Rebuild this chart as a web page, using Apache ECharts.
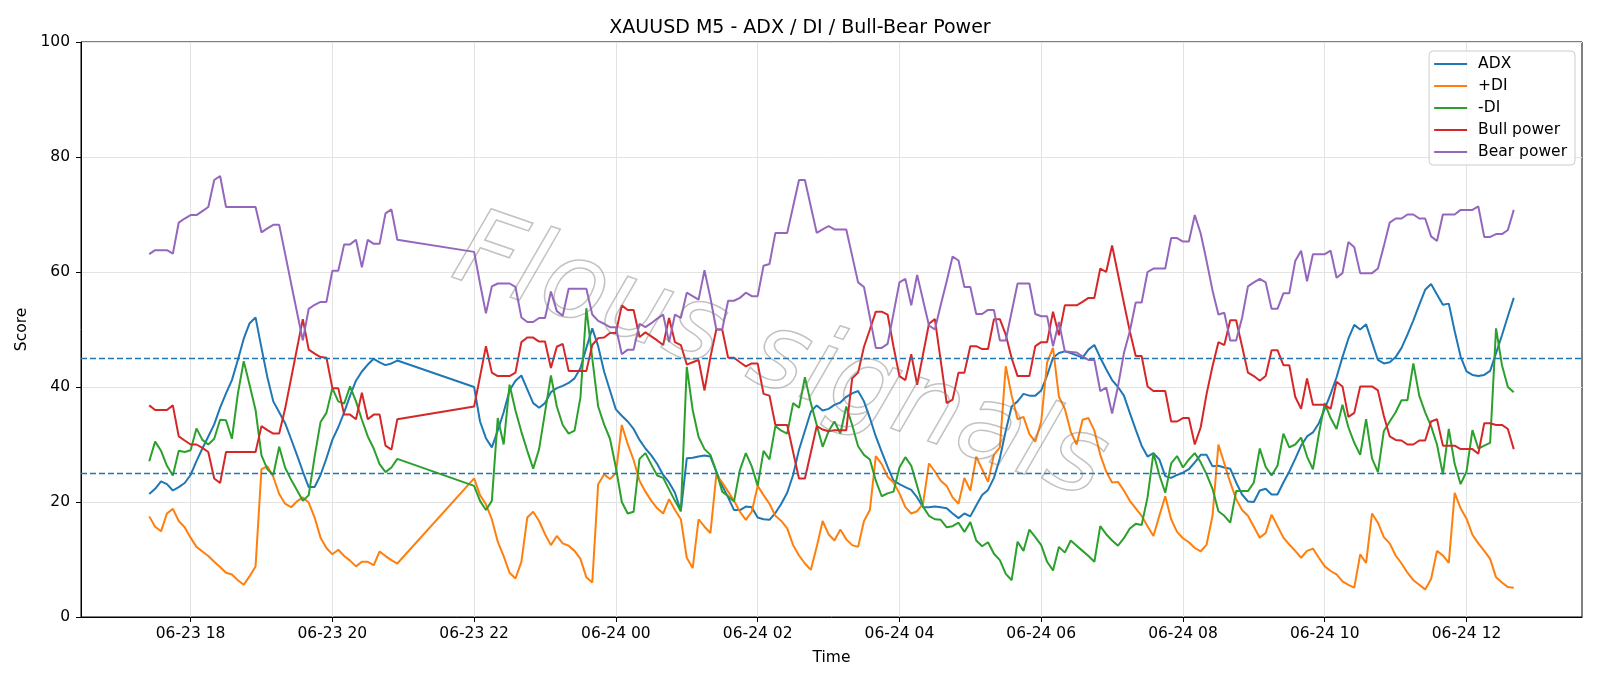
<!DOCTYPE html>
<html>
<head>
<meta charset="utf-8">
<title>XAUUSD M5 - ADX / DI / Bull-Bear Power</title>
<script src="https://cdn.jsdelivr.net/npm/echarts@6/dist/echarts.min.js"></script>
<style>
  html, body { margin: 0; padding: 0; background: #fff; }
  #chart { width: 1600px; height: 686px; }
</style>
</head>
<body>
<div id="chart"></div>
<script>
// two trading sessions of 5-minute bars (market pause 21:00-22:00)
const sessionStarts = ["2025-06-23T17:25:00Z", "2025-06-23T22:00:00Z"];
const sessionBars = [43, 177];
const barMinutes = 5;

const tickTimes = [
  "2025-06-23T18:00:00Z", "2025-06-23T20:00:00Z", "2025-06-23T22:00:00Z",
  "2025-06-24T00:00:00Z", "2025-06-24T02:00:00Z", "2025-06-24T04:00:00Z",
  "2025-06-24T06:00:00Z", "2025-06-24T08:00:00Z", "2025-06-24T10:00:00Z",
  "2025-06-24T12:00:00Z"
];
const yTicks = [0, 20, 40, 60, 80, 100];
const thresholds = [25, 45];

const adxS1 = [
  21.4, 22.3, 23.6, 23.1, 22.0, 22.6, 23.3, 24.7, 27.1, 29.3,
  31.4, 33.5, 36.4, 38.9, 41.2, 44.7, 48.4, 51.1, 52.1, 46.8,
  41.7, 37.5, 35.6, 33.7, 31.0, 28.2, 25.3, 22.6, 22.6, 24.7,
  27.6, 30.8, 33.0, 35.6, 38.5, 41.1, 42.7, 43.9, 44.9, 44.3,
  43.8, 44.1, 44.6
];
const adxS2 = [
  40.0, 34.0, 31.1, 29.5, 32.4, 35.6, 39.4, 41.1, 42.0, 39.6,
  37.2, 36.4, 37.2, 39.1, 39.8, 40.2, 40.7, 41.5, 43.3, 46.8,
  50.2, 47.1, 42.7, 39.4, 36.1, 35.0, 34.0, 32.7, 30.8, 29.3,
  28.1, 26.6, 24.7, 23.4, 21.6, 18.4, 27.6, 27.7, 27.9, 28.1,
  27.9, 25.3, 22.8, 20.8, 18.6, 18.6, 19.2, 19.1, 17.3, 17.0,
  16.9, 18.1, 19.7, 21.6, 24.7, 29.1, 32.4, 35.7, 36.8, 35.9,
  36.2, 36.9, 37.3, 38.3, 38.9, 39.3, 37.5, 34.6, 31.4, 28.7,
  26.1, 23.7, 23.1, 22.6, 22.1, 20.8, 19.1, 19.1, 19.2, 19.1,
  18.9, 18.0, 17.2, 18.0, 17.5, 19.4, 21.2, 22.1, 24.2, 27.6,
  32.4, 36.6, 37.5, 38.8, 38.5, 38.5, 39.4, 42.0, 45.1, 45.9,
  46.2, 45.9, 45.5, 45.1, 46.5, 47.3, 45.1, 43.1, 41.2, 40.0,
  38.5, 35.5, 32.6, 29.8, 27.9, 28.5, 27.4, 24.5, 24.2, 24.7,
  25.1, 25.7, 26.9, 28.2, 28.2, 26.2, 26.3, 26.0, 25.8, 23.4,
  21.3, 20.1, 20.0, 22.0, 22.3, 21.3, 21.3, 23.4, 25.3, 27.5,
  29.8, 31.4, 32.1, 33.7, 36.2, 38.8, 41.7, 45.2, 48.4, 50.8,
  50.0, 50.9, 47.8, 44.7, 44.1, 44.3, 45.2, 46.8, 49.1, 51.6,
  54.3, 56.9, 57.9, 56.1, 54.3, 54.5, 49.7, 45.3, 42.7, 42.1,
  41.9, 42.1, 42.8, 45.9, 49.0, 52.3, 55.5
];

const plusDiS1 = [
  17.5, 15.7, 14.9, 18.0, 18.8, 16.7, 15.6, 13.8, 12.2, 11.4,
  10.6, 9.6, 8.7, 7.7, 7.4, 6.4, 5.6, 7.1, 8.8, 25.7,
  26.2, 24.4, 21.4, 19.7, 19.1, 20.1, 20.8, 19.9, 17.3, 13.8,
  12.0, 10.9, 11.7, 10.6, 9.8, 8.8, 9.6, 9.6, 9.0, 11.4,
  10.6, 9.9, 9.3
];
const plusDiS2 = [
  24.1, 21.2, 19.6, 17.0, 13.1, 10.6, 7.7, 6.7, 9.6, 17.3,
  18.3, 16.7, 14.4, 12.5, 14.1, 12.8, 12.4, 11.5, 10.1, 6.9,
  6.0, 23.1, 24.8, 24.0, 25.0, 33.4, 30.1, 27.3, 23.7, 21.8,
  20.2, 18.9, 18.0, 20.5, 18.6, 17.0, 10.3, 8.5, 17.0, 15.7,
  14.6, 24.7, 23.4, 21.8, 20.2, 18.3, 16.9, 18.3, 22.8, 21.2,
  19.7, 17.6, 16.7, 15.4, 12.5, 10.7, 9.3, 8.2, 12.2, 16.7,
  14.4, 13.3, 15.2, 13.5, 12.5, 12.2, 16.7, 18.6, 28.0, 26.6,
  24.4, 23.4, 21.5, 19.1, 18.0, 18.4, 19.7, 26.7, 25.3, 23.7,
  22.8, 20.8, 19.7, 24.2, 22.0, 27.9, 25.7, 23.5, 28.2, 29.5,
  43.6, 38.5, 34.4, 34.8, 31.8, 30.5, 34.0, 44.3, 46.8, 38.3,
  36.2, 32.2, 30.0, 34.3, 34.6, 32.4, 28.2, 25.3, 23.4, 23.5,
  22.0, 20.2, 18.9, 17.6, 15.8, 14.1, 17.6, 21.0, 17.0, 14.8,
  13.7, 13.0, 12.0, 11.4, 12.6, 17.6, 30.0, 26.7, 23.4, 20.5,
  18.6, 17.6, 15.7, 13.8, 14.6, 17.8, 15.8, 13.8, 12.6, 11.5,
  10.3, 11.5, 11.9, 10.3, 8.8, 8.0, 7.4, 6.2, 5.6, 5.1,
  10.9, 9.4, 18.0, 16.4, 13.9, 12.8, 10.7, 9.3, 7.7, 6.4,
  5.6, 4.8, 6.6, 11.5, 10.7, 9.4, 21.6, 18.9, 17.1, 14.3,
  12.8, 11.5, 10.1, 6.9, 6.0, 5.2, 5.1
];

const minusDiS1 = [
  27.1, 30.5, 28.9, 26.3, 24.6, 28.9, 28.7, 29.0, 32.8, 30.8,
  30.0, 31.0, 34.3, 34.2, 31.0, 38.8, 44.5, 40.3, 36.0, 28.1,
  25.7, 24.7, 29.6, 26.0, 23.9, 22.1, 20.2, 21.2, 27.9, 33.9,
  35.5, 39.8, 37.5, 37.1, 40.1, 37.5, 34.3, 31.4, 29.3, 26.6,
  25.2, 26.0, 27.5
];
const minusDiS2 = [
  22.8, 20.2, 18.6, 20.2, 34.6, 30.0, 40.4, 35.9, 32.2, 28.9,
  25.8, 29.2, 35.6, 42.0, 36.6, 33.4, 31.9, 32.4, 38.2, 53.7,
  45.0, 36.6, 33.5, 31.0, 26.0, 20.0, 18.0, 18.3, 27.5, 28.5,
  26.5, 24.6, 24.2, 22.2, 20.2, 18.4, 43.5, 36.0, 31.3, 29.2,
  28.2, 25.3, 21.8, 21.0, 20.1, 25.6, 28.5, 26.2, 22.8, 28.9,
  27.4, 33.2, 32.4, 31.9, 37.2, 36.4, 41.7, 37.2, 33.4, 29.6,
  32.3, 34.0, 31.9, 36.6, 33.4, 29.7, 28.2, 27.4, 23.7, 21.0,
  21.5, 21.8, 26.0, 27.8, 26.3, 22.8, 19.2, 17.6, 17.0, 16.9,
  15.6, 15.8, 16.4, 14.8, 16.5, 13.3, 12.3, 13.0, 11.0, 9.9,
  7.5, 6.4, 13.1, 11.5, 15.2, 13.9, 12.5, 9.6, 8.1, 12.2,
  11.2, 13.3, 12.4, 11.5, 10.6, 9.6, 15.8, 14.4, 13.3, 12.4,
  13.7, 15.4, 16.2, 16.0, 20.8, 28.5, 24.7, 21.6, 26.7, 28.0,
  26.0, 27.4, 28.5, 26.9, 24.8, 22.3, 18.4, 17.6, 16.4, 21.9,
  21.9, 21.9, 23.4, 29.3, 26.1, 24.6, 26.3, 31.9, 29.5, 30.0,
  31.2, 27.9, 25.7, 31.8, 37.2, 34.6, 32.7, 36.9, 33.0, 30.3,
  28.2, 34.4, 27.6, 25.2, 32.3, 34.0, 35.6, 37.7, 37.7, 44.1,
  38.5, 35.6, 33.2, 30.0, 24.8, 32.7, 26.6, 23.1, 25.3, 32.5,
  29.3, 29.8, 30.3, 50.2, 43.8, 40.0, 39.1
];

const bullS1 = [
  36.8, 36.0, 36.0, 36.0, 36.8, 31.4, 30.7, 30.0, 30.0, 29.4,
  28.7, 24.1, 23.3, 28.7, 28.7, 28.7, 28.7, 28.7, 28.7, 33.2,
  32.5, 31.9, 31.9, 36.2, 41.4, 46.6, 51.8, 46.5, 45.8, 45.2,
  45.1, 39.8, 39.8, 35.2, 35.2, 34.4, 39.0, 34.4, 35.2, 35.2,
  29.8, 29.1, 34.4
];
const bullS2 = [
  36.6, 41.8, 47.1, 42.5, 41.9, 41.9, 41.9, 42.5, 47.8, 48.6,
  48.6, 47.9, 47.9, 43.3, 47.0, 47.5, 42.8, 42.8, 42.8, 42.8,
  47.3, 48.5, 48.6, 49.4, 49.4, 54.2, 53.4, 53.4, 48.7, 49.5,
  48.8, 48.1, 47.3, 52.0, 47.8, 47.3, 43.9, 44.3, 44.7, 39.4,
  45.2, 50.0, 50.0, 45.1, 45.1, 44.3, 43.6, 44.1, 44.1, 38.8,
  38.5, 33.4, 33.4, 33.4, 28.7, 24.1, 24.1, 28.6, 33.2, 32.6,
  32.3, 32.5, 32.5, 32.5, 41.5, 42.5, 47.0, 50.0, 53.1, 53.1,
  52.6, 47.0, 41.9, 41.2, 45.7, 40.4, 45.7, 51.0, 51.8, 44.5,
  37.2, 37.8, 42.5, 42.5, 47.1, 47.1, 46.6, 46.6, 51.8, 51.8,
  49.1, 45.0, 41.9, 41.9, 41.9, 47.1, 47.8, 47.8, 53.1, 49.0,
  54.2, 54.2, 54.2, 54.8, 55.5, 55.5, 60.6, 60.0, 64.6, 59.6,
  54.6, 49.7, 45.4, 45.4, 40.1, 39.3, 39.3, 39.3, 34.0, 34.0,
  34.6, 34.6, 30.0, 33.0, 38.8, 43.6, 47.8, 47.3, 51.6, 51.6,
  47.1, 42.5, 41.9, 41.1, 41.9, 46.4, 46.4, 43.8, 43.8, 38.3,
  36.2, 41.5, 36.9, 36.9, 36.9, 36.2, 40.9, 40.1, 34.8, 35.5,
  40.1, 40.1, 40.1, 39.4, 35.0, 31.4, 30.8, 30.7, 30.0, 30.0,
  30.7, 30.7, 34.0, 34.4, 29.8, 29.8, 29.8, 29.2, 29.2, 29.2,
  28.4, 33.7, 33.7, 33.4, 33.4, 32.7, 29.2
];

const bearS1 = [
  63.1, 63.8, 63.8, 63.8, 63.2, 68.6, 69.3, 69.9, 69.9, 70.6,
  71.3, 76.0, 76.7, 71.3, 71.3, 71.3, 71.3, 71.3, 71.3, 66.9,
  67.6, 68.2, 68.2, 63.2, 58.1, 53.1, 48.1, 53.6, 54.3, 54.8,
  54.8, 60.2, 60.2, 64.8, 64.8, 65.6, 60.8, 65.6, 64.9, 64.9,
  70.2, 70.9, 65.6
];
const bearS2 = [
  63.5, 58.0, 52.8, 57.5, 58.0, 58.0, 58.0, 57.4, 52.1, 51.3,
  51.3, 52.0, 52.0, 56.6, 53.2, 52.4, 57.1, 57.1, 57.1, 57.1,
  52.6, 51.5, 51.0, 50.4, 50.4, 45.7, 46.5, 46.5, 51.0, 50.4,
  51.1, 51.9, 52.6, 47.8, 52.6, 52.0, 56.4, 55.8, 55.2, 60.3,
  55.5, 50.0, 50.0, 55.0, 55.0, 55.5, 56.4, 55.8, 55.8, 61.1,
  61.4, 66.8, 66.8, 66.8, 71.4, 76.0, 76.0, 71.4, 66.8, 67.4,
  68.0, 67.4, 67.4, 67.4, 62.8, 58.2, 57.4, 52.1, 46.8, 46.8,
  47.5, 52.8, 58.2, 58.8, 54.2, 59.5, 55.1, 50.7, 50.0, 54.3,
  58.4, 62.7, 62.0, 57.4, 57.4, 52.7, 52.7, 53.4, 53.4, 48.1,
  48.1, 53.1, 58.0, 58.0, 58.0, 52.7, 52.3, 52.3, 47.1, 51.3,
  46.2, 46.1, 46.0, 45.3, 44.7, 44.7, 39.3, 39.9, 35.4, 40.1,
  45.9, 49.7, 54.7, 54.7, 60.0, 60.6, 60.6, 60.6, 65.9, 65.9,
  65.3, 65.3, 69.9, 66.7, 61.9, 56.8, 52.6, 52.9, 48.1, 48.1,
  52.0, 57.5, 58.2, 58.8, 58.2, 53.6, 53.6, 56.3, 56.3, 61.9,
  63.7, 58.4, 63.1, 63.1, 63.1, 63.7, 59.0, 59.8, 65.2, 64.3,
  59.8, 59.8, 59.8, 60.6, 64.5, 68.6, 69.3, 69.3, 70.0, 70.0,
  69.3, 69.3, 66.2, 65.4, 70.0, 70.0, 70.0, 70.8, 70.8, 70.8,
  71.4, 66.1, 66.1, 66.6, 66.6, 67.3, 70.8
];

// bar timestamps
const times = [];
sessionStarts.forEach((s, k) => {
  const t0 = Date.parse(s);
  for (let i = 0; i < sessionBars[k]; i++) times.push(t0 + i * barMinutes * 60000);
});

function pairs(a, b) {
  return a.concat(b).map((v, i) => [times[i], v]);
}

const pad2 = n => (n < 10 ? "0" : "") + n;
function fmtTick(v) {
  const d = new Date(v);
  return pad2(d.getUTCMonth() + 1) + "-" + pad2(d.getUTCDate()) + " " + pad2(d.getUTCHours());
}

const first = times[0], last = times[times.length - 1];
const margin = (last - first) * 0.05;
const tickValues = tickTimes.map(t => Date.parse(t));

const font = "DejaVu Sans";
const chart = echarts.init(document.getElementById("chart"));

function lineSeries(name, color, a, b, extra) {
  return Object.assign({
    name: name,
    type: "line",
    data: pairs(a, b),
    showSymbol: false,
    symbol: "none",
    color: color,
    lineStyle: { width: 2, color: color },
    animation: false
  }, extra || {});
}

chart.setOption({
  backgroundColor: "#ffffff",
  animation: false,
  textStyle: { fontFamily: font },
  title: {
    text: "XAUUSD M5 - ADX / DI / Bull-Bear Power",
    left: "center",
    top: 14,
    textStyle: { fontFamily: font, fontSize: 19, fontWeight: "normal", color: "#000" }
  },
  legend: {
    orient: "vertical",
    right: 25,
    top: 51,
    icon: "rect",
    itemWidth: 33,
    itemHeight: 2,
    itemGap: 6,
    padding: [5, 8, 5, 5],
    backgroundColor: "rgba(255,255,255,0.8)",
    borderColor: "#cccccc",
    borderWidth: 1,
    borderRadius: 4,
    textStyle: { fontFamily: font, fontSize: 15.5, color: "#000", lineHeight: 16, padding: [0, 0, 0, 6] },
    data: ["ADX", "+DI", "-DI", "Bull power", "Bear power"]
  },
  grid: {
    left: 81,
    right: 18,
    top: 42,
    bottom: 69,
    show: true,
    borderColor: "#000",
    borderWidth: 1
  },
  xAxis: {
    type: "value",
    scale: true,
    min: first - margin,
    max: last + margin,
    name: "Time",
    nameLocation: "middle",
    nameGap: 33,
    nameTextStyle: { fontFamily: font, fontSize: 15.5, color: "#000" },
    axisLine: { show: true, onZero: false, lineStyle: { color: "#000", width: 1 } },
    axisTick: { show: true, length: 5, lineStyle: { color: "#000" }, customValues: tickValues },
    axisLabel: {
      customValues: tickValues,
      formatter: fmtTick,
      fontFamily: font,
      fontSize: 15.5,
      color: "#000",
      margin: 9,
      showMinLabel: true,
      showMaxLabel: true
    },
    splitLine: { show: true, lineStyle: { color: "#e3e3e3", width: 1 } }
  },
  yAxis: {
    type: "value",
    min: yTicks[0],
    max: yTicks[yTicks.length - 1],
    interval: 20,
    name: "Score",
    nameLocation: "middle",
    nameGap: 45,
    nameTextStyle: { fontFamily: font, fontSize: 15.5, color: "#000" },
    axisLine: { show: true, lineStyle: { color: "#000", width: 1 } },
    axisTick: { show: true, length: 5, lineStyle: { color: "#000" } },
    axisLabel: { fontFamily: font, fontSize: 15.5, color: "#000", margin: 11 },
    splitLine: { show: true, lineStyle: { color: "#e3e3e3", width: 1 } }
  },
  graphic: [{
    type: "text",
    x: 458,
    y: 250,
    rotation: -19 * Math.PI / 180,
    z: 100,
    silent: true,
    style: {
      text: "Flous signals",
      font: "italic 200 106px 'DejaVu Sans'",
      fill: "rgba(255,255,255,0)",
      stroke: "rgba(120,120,120,0.45)",
      lineWidth: 1.5,
      textVerticalAlign: "middle",
      textAlign: "left"
    }
  }],
  series: [
    lineSeries("ADX", "#1f77b4", adxS1, adxS2, {
      markLine: {
        silent: true,
        symbol: "none",
        label: { show: false },
        lineStyle: { color: "#1f77b4", type: [6, 3], width: 1.4 },
        data: thresholds.map(v => ({ yAxis: v }))
      }
    }),
    lineSeries("+DI", "#ff7f0e", plusDiS1, plusDiS2),
    lineSeries("-DI", "#2ca02c", minusDiS1, minusDiS2),
    lineSeries("Bull power", "#d62728", bullS1, bullS2),
    lineSeries("Bear power", "#9467bd", bearS1, bearS2)
  ]
});
</script>
</body>
</html>
